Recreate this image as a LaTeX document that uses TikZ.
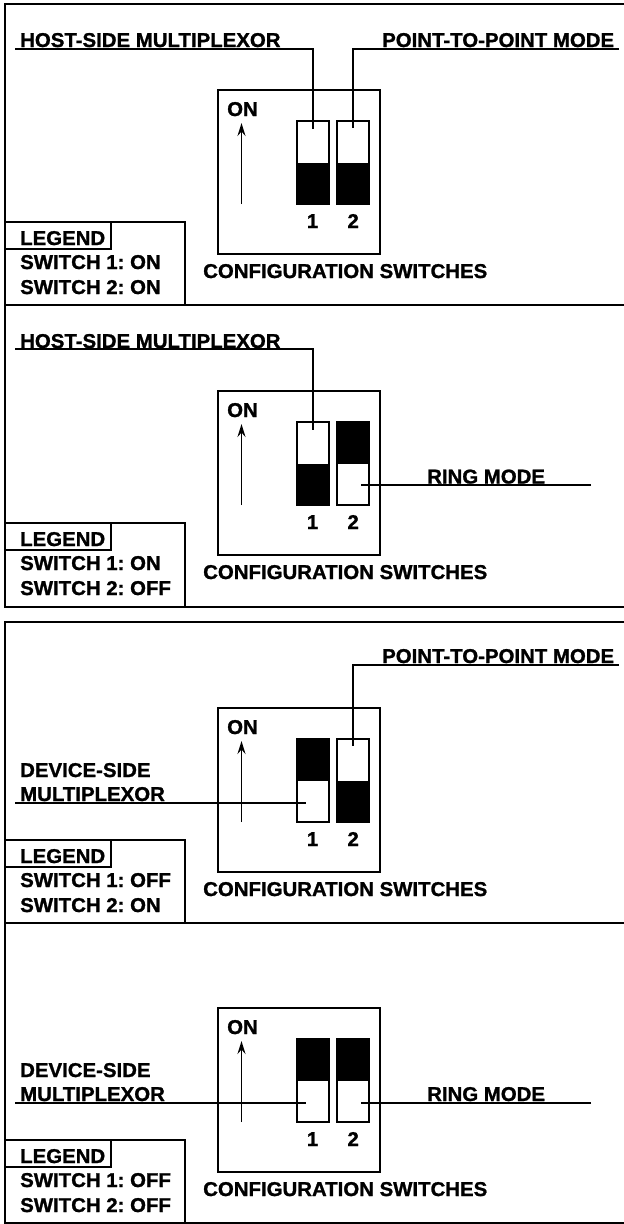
\documentclass[tikz,border=0pt]{standalone}
\usepackage{fontspec}
\setmainfont{Liberation Sans}[FakeStretch=1.02,FakeBold=1.2]
\usetikzlibrary{arrows.meta}
\frenchspacing
\newcommand\SwitchPanel[6]{%
  \node[boxsty] (box) at (299,172) {};
  \node[lab] (on) at (227,116) {ON};
  \coordinate (arrS) at (241.5,204);
  \coordinate (arrE) at (241.5,123);
  \draw[lead,-{Stealth[length=13pt,width=8pt,inset=4.5pt]}] (arrS) -- (arrE);
  \fill (296.5,#1) rectangle (328.7,#2);
  \fill (337,#3) rectangle (369.3,#4);
  \node[swsty] (sw1) at (312.6,162.5) {};
  \node[swsty] (sw2) at (353.15,162.5) {};
  \node[lab,anchor=base] (n1) at (312.6,228) {1};
  \node[lab,anchor=base] (n2) at (353.15,228) {2};
  \node[lab] (cfg) at (203,278) {CONFIGURATION SWITCHES};
  \coordinate (lgA) at (5,305.5);
  \coordinate (lgB) at (185,222);
  \draw[legsty] (lgA) |- (lgB) -- (185,305.5);
  \draw[legsty] (5,249) -| (110.6,222);
  \node[lab] (leg) at (20,245) {LEGEND};
  \node[lab] (l1) at (20,269) {SWITCH 1: #5};
  \node[lab] (l2) at (20,294) {SWITCH 2: #6};
}
\begin{document}
\begin{tikzpicture}[x=1pt,y=-1pt,
  frame/.style={line width=2.5pt},
  lead/.style={line width=1.8pt},
  legsty/.style={line width=2.2pt},
  boxsty/.style={draw,line width=2.4pt,minimum width=162pt,minimum height=164pt,inner sep=0pt},
  swsty/.style={draw,line width=2pt,minimum width=32.2pt,minimum height=83pt,inner sep=0pt},
  lab/.style={font=\fontsize{20}{22}\selectfont\bfseries,inner sep=0pt,anchor=base west}]
\useasboundingbox (0,0) rectangle (624,1224);
\fill[white] (0,0) rectangle (624,1224);
% outer frames
\draw[frame] (630,4) -- (5,4) -- (5,607) -- (630,607);
\draw[frame] (5,305) -- (630,305);
\draw[frame] (630,622) -- (5,622) -- (5,1223) -- (630,1223);
\draw[frame] (5,923) -- (630,923);
% panel 1
\begin{scope}[name prefix=pa-]
  \SwitchPanel{163}{204}{163}{204}{ON}{ON}
  \node[lab] (host) at (20,47) {HOST-SIDE MULTIPLEXOR};
  \coordinate (hostEnd) at (15,49);
  \draw[lead] (hostEnd) -| ([yshift=-9pt]sw1.north);
  \node[lab] (ptp) at (382,47) {POINT-TO-POINT MODE};
  \coordinate (ptpEnd) at (619,49);
  \draw[lead] (ptpEnd) -| ([yshift=-8pt]sw2.north);
\end{scope}
% panel 2
\begin{scope}[shift={(0,301)},name prefix=pb-]
  \SwitchPanel{163}{204}{121}{163}{ON}{OFF}
  \node[lab] (host) at (20,47) {HOST-SIDE MULTIPLEXOR};
  \coordinate (hostEnd) at (15,48);
  \draw[lead] (hostEnd) -| ([yshift=-9pt]sw1.north);
  \node[lab] (ring) at (427,182.5) {RING MODE};
  \coordinate (ringEnd) at (591,184);
  \coordinate (ringIn) at (361,184);
  \draw[lead] (ringEnd) -- (ringIn);
\end{scope}
% panel 3
\begin{scope}[shift={(0,618)},name prefix=pc-]
  \SwitchPanel{121}{163}{163}{204}{OFF}{ON}
  \node[lab] (ptp) at (382,45) {POINT-TO-POINT MODE};
  \coordinate (ptpEnd) at (619,47);
  \draw[lead] (ptpEnd) -| ([yshift=-8pt]sw2.north);
  \node[lab] (dev1) at (20,159) {DEVICE-SIDE};
  \node[lab] (dev2) at (20,183) {MULTIPLEXOR};
  \coordinate (devEnd) at (15,185);
  \coordinate (devIn) at (306,185);
  \draw[lead] (devEnd) -- (devIn);
\end{scope}
% panel 4
\begin{scope}[shift={(0,918)},name prefix=pd-]
  \SwitchPanel{121}{163}{121}{163}{OFF}{OFF}
  \node[lab] (dev1) at (20,159) {DEVICE-SIDE};
  \node[lab] (dev2) at (20,183) {MULTIPLEXOR};
  \coordinate (devEnd) at (15,185);
  \coordinate (devIn) at (306,185);
  \draw[lead] (devEnd) -- (devIn);
  \node[lab] (ring) at (427,183) {RING MODE};
  \coordinate (ringEnd) at (591,185);
  \coordinate (ringIn) at (361,185);
  \draw[lead] (ringEnd) -- (ringIn);
\end{scope}
\end{tikzpicture}
\end{document}
